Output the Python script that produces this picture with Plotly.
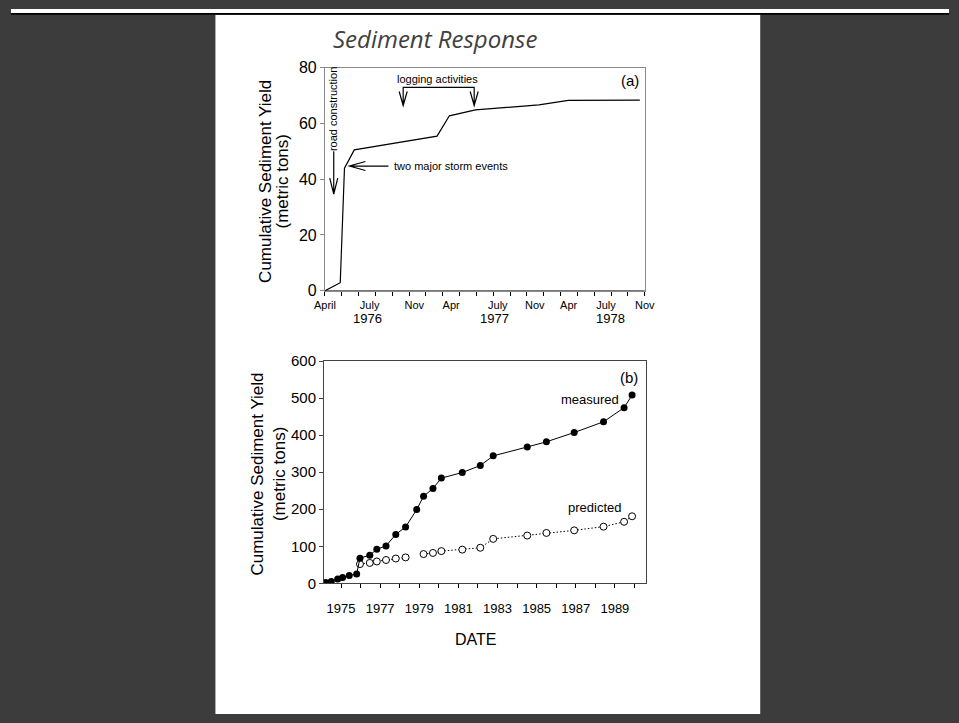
import plotly.graph_objects as go

W, H = 959, 723
FONT = "Liberation Sans, Arial, sans-serif"

# ---- Panel (a): cumulative yield after road construction, Apr 1976 - Nov 1978
a_month = [0.0, 1.48, 1.89, 2.84, 10.86, 12.06, 14.58, 20.74, 23.58, 30.52]   # months since 1 April 1976
a_yield = [0.0, 2.9, 43.9, 50.5, 55.4, 62.7, 64.8, 66.6, 68.2, 68.3]          # metric tons
a_tick_pos = [0, 4.33, 8.66, 12.23, 16.75, 20.34, 23.62, 27.24, 31]
a_tick_text = ["April", "July", "Nov", "Apr", "July", "Nov", "Apr", "July", "Nov"]
a_year_pos = [4.17, 16.4, 27.7]
a_year_text = ["1976", "1977", "1978"]

# ---- Panel (b): measured vs predicted cumulative yield, 1974 - 1990
b_meas_year = [1974.22, 1974.50, 1974.83, 1975.08, 1975.42, 1975.80, 1975.97, 1976.47,
               1976.83, 1977.30, 1977.80, 1978.30, 1978.87, 1979.22, 1979.70, 1980.13,
               1981.20, 1982.12, 1982.78, 1984.52, 1985.50, 1986.92, 1988.42, 1989.47, 1989.88]
b_meas = [2, 5, 12, 16, 21, 25, 68, 76, 92, 101, 132, 152, 199, 235, 256, 284,
          299, 318, 344, 368, 382, 407, 436, 474, 508]
b_pred_year = [1975.97, 1976.47, 1976.83, 1977.30, 1977.80, 1978.30, None, 1979.22,
               1979.70, 1980.13, 1981.20, 1982.12, 1982.78, 1984.52, 1985.50, 1986.92,
               1988.42, 1989.47, 1989.88]
b_pred = [52, 55, 59, 63, 67, 70, None, 79, 82, 87, 91, 96, 120, 129, 136, 143, 153, 166, 181]


def px_x(p):
    return p / W


def px_y(p):
    return 1 - p / H


fig = go.Figure()

fig.add_trace(go.Scatter(x=a_month, y=a_yield, mode="lines",
                         line=dict(color="black", width=1.2),
                         xaxis="x", yaxis="y", showlegend=False))
# tick marks for panel (a) live on an overlay axis
fig.add_trace(go.Scatter(x=[], y=[], xaxis="x3", yaxis="y", showlegend=False))

fig.add_trace(go.Scatter(x=b_pred_year, y=b_pred, mode="lines+markers",
                         line=dict(color="black", width=1, dash="1.5px,2px"),
                         marker=dict(symbol="circle", size=7, color="white",
                                     line=dict(color="black", width=1)),
                         connectgaps=False, xaxis="x2", yaxis="y2", showlegend=False))
fig.add_trace(go.Scatter(x=b_meas_year, y=b_meas, mode="lines+markers",
                         line=dict(color="black", width=1),
                         marker=dict(symbol="circle", size=7, color="black"),
                         xaxis="x2", yaxis="y2", showlegend=False))

a_dom_x = [px_x(321), px_x(648)]
a_dom_y = [px_y(289), px_y(60)]
b_dom_x = [px_x(320), px_x(649)]
b_dom_y = [px_y(589), px_y(361)]

tickfont_a = dict(family=FONT, size=11, color="black")

fig.update_layout(
    width=W, height=H,
    margin=dict(l=0, r=0, t=0, b=0),
    paper_bgcolor="#3c3c3c",
    plot_bgcolor="white",
    xaxis=dict(domain=a_dom_x, range=[0, 31], anchor="y",
               tickmode="array", tickvals=a_tick_pos, ticktext=a_tick_text,
               ticks="", tickfont=tickfont_a, ticklabelstandoff=4,
               showgrid=False, zeroline=False,
               showline=True, linecolor="#8a8a8a", linewidth=1, mirror=True),
    xaxis3=dict(domain=a_dom_x, range=[0, 31], anchor="y", overlaying="x",
                tickmode="linear", tick0=0, dtick=31 / 19, ticks="outside",
                ticklen=4, tickcolor="black", tickwidth=1,
                showticklabels=False, showgrid=False, zeroline=False, showline=False),
    yaxis=dict(domain=a_dom_y, range=[0, 80], anchor="x",
               tickmode="linear", tick0=0, dtick=20, ticks="outside", ticklen=4,
               tickcolor="#8a8a8a", tickfont=dict(family=FONT, size=16, color="black"),
               showgrid=False, zeroline=False,
               showline=True, linecolor="#8a8a8a", linewidth=1, mirror=True),
    xaxis2=dict(domain=b_dom_x, range=[1974.13, 1990.58], anchor="y2",
                tickmode="linear", tick0=1975, dtick=2, ticks="outside", ticklen=4,
                tickcolor="black", ticklabelstandoff=9,
                minor=dict(tickmode="linear", tick0=1975, dtick=1, ticks="outside",
                           ticklen=4, tickcolor="black"),
                tickfont=dict(family=FONT, size=13, color="black"),
                showgrid=False, zeroline=False,
                showline=True, linecolor="#444444", linewidth=1, mirror=True),
    yaxis2=dict(domain=b_dom_y, range=[0, 600], anchor="x2",
                tickmode="linear", tick0=0, dtick=100, ticks="outside", ticklen=4,
                tickcolor="#444444", tickfont=dict(family=FONT, size=15, color="black"),
                showgrid=False, zeroline=False,
                showline=True, linecolor="#444444", linewidth=1, mirror=True),
)

shapes = [
    # white page panel
    dict(type="rect", xref="paper", yref="paper", x0=px_x(209), x1=px_x(766),
         y0=0, y1=px_y(6), fillcolor="white", line=dict(width=0), layer="below"),
    # thin strip along the top edge
    dict(type="rect", xref="paper", yref="paper", x0=0, x1=1,
         y0=px_y(4), y1=1, fillcolor="white", line=dict(width=0), layer="below"),
    dict(type="rect", xref="paper", yref="paper", x0=0, x1=1,
         y0=px_y(6), y1=px_y(4), fillcolor="black", line=dict(width=0), layer="below"),
    # black baseline of panel (a)
    dict(type="line", xref="x", yref="y", x0=0, x1=31, y0=0, y1=0,
         line=dict(color="black", width=1)),
    # road construction arrow (pointing down)
    dict(type="path", xref="x", yref="y", xsizemode="pixel", ysizemode="pixel",
         xanchor=0.85, yanchor=34.6,
         path="M0,0 L0,43 M-4,16 L0,0 L4,16", line=dict(color="black", width=1.2)),
    # storm events arrow (pointing left)
    dict(type="path", xref="x", yref="y", xsizemode="pixel", ysizemode="pixel",
         xanchor=2.37, yanchor=44.7,
         path="M0,0 L39,0 M16,4.5 L0,0 L16,-4.5", line=dict(color="black", width=1.2)),
    # logging activities bracket with two arrows
    dict(type="path", xref="x", yref="y", xsizemode="pixel", ysizemode="pixel",
         xanchor=7.58, yanchor=66.4,
         path="M0,0 L0,18 L71,18 L71,0 M-4,14 L0,0 L4,14 M67,14 L71,0 L75,14",
         line=dict(color="black", width=1.2)),
]
fig.update_layout(shapes=shapes)

ann = []
small = dict(family=FONT, size=11, color="black")
ann.append(dict(x=0.85, y=65, xref="x", yref="y", text="road construction",
                textangle=-90, showarrow=False, font=small,
                xanchor="center", yanchor="middle"))
ann.append(dict(x=6.45, y=44.7, xref="x", yref="y", text="two major storm events",
                xanchor="left", yanchor="middle", showarrow=False, font=small))
ann.append(dict(x=10.9, y=75.8, xref="x", yref="y", text="logging activities",
                xanchor="center", yanchor="middle", showarrow=False, font=small))
ann.append(dict(x=29.6, y=75.5, xref="x", yref="y", text="(a)", showarrow=False,
                xanchor="center", yanchor="middle",
                font=dict(family=FONT, size=15, color="black")))
for xp, txt in zip(a_year_pos, a_year_text):
    ann.append(dict(x=xp, y=px_y(317), xref="x", yref="paper", text=txt,
                    xanchor="center", yanchor="middle", showarrow=False,
                    font=dict(family=FONT, size=13, color="black")))

ann.append(dict(x=1987.73, y=497, xref="x2", yref="y2", text="measured", showarrow=False,
                xanchor="center", yanchor="middle",
                font=dict(family=FONT, size=13, color="black")))
ann.append(dict(x=1987.98, y=205, xref="x2", yref="y2", text="predicted", showarrow=False,
                xanchor="center", yanchor="middle",
                font=dict(family=FONT, size=13, color="black")))
ann.append(dict(x=1989.73, y=555, xref="x2", yref="y2", text="(b)", showarrow=False,
                xanchor="center", yanchor="middle",
                font=dict(family=FONT, size=15, color="black")))

title_font = dict(family=FONT, size=17, color="black")
for x1, x2, cy in [(260, 278, 177), (252, 274, 477)]:
    ann.append(dict(x=px_x(x1), y=px_y(cy), xref="paper", yref="paper",
                    text="Cumulative Sediment Yield", textangle=-90,
                    xanchor="center", yanchor="middle",
                    showarrow=False, font=title_font))
    ann.append(dict(x=px_x(x2), y=px_y(cy), xref="paper", yref="paper",
                    text="(metric tons)", textangle=-90,
                    xanchor="center", yanchor="middle",
                    showarrow=False, font=title_font))

ann.append(dict(x=px_x(475), y=px_y(647), xref="paper", yref="paper", text="DATE",
                xanchor="center", yanchor="middle",
                showarrow=False, font=dict(family=FONT, size=16, color="black")))
ann.append(dict(x=px_x(434), y=px_y(30), xref="paper", yref="paper",
                text="<i>Sediment Response</i>", showarrow=False,
                xanchor="center", yanchor="middle",
                font=dict(family="Open Sans, Lato, sans-serif", size=24, color="#404040")))
fig.update_layout(annotations=ann)

fig.write_html("out.html")
